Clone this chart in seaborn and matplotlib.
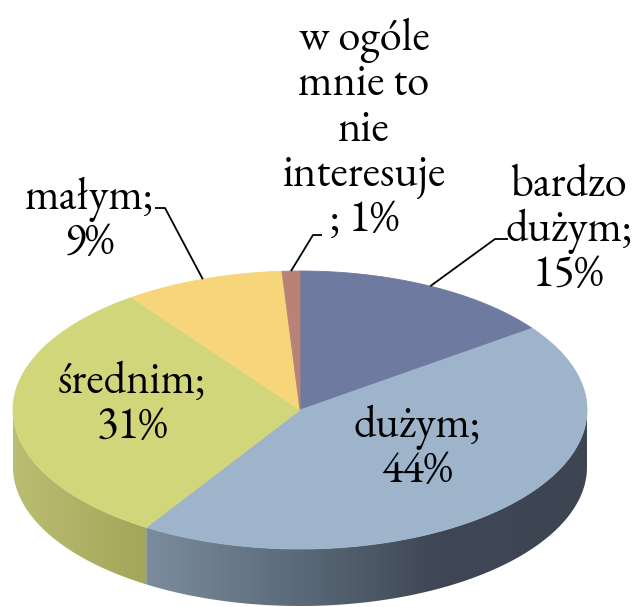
import numpy as np
import matplotlib
matplotlib.use("Agg")
import matplotlib.pyplot as plt
from matplotlib.patches import Polygon
from matplotlib.colors import LinearSegmentedColormap
import seaborn as sns

# Survey answers (share of respondents, %)
names = ["bardzo\ndużym", "dużym", "średnim", "małym", "w ogóle\nmnie to\nnie\ninteresuje"]
shares = [15, 44, 31, 9, 1]
separators = [";\n", ";\n", ";\n", ";\n", "\n; "]

sns.set_theme(style="white")
FONT = ["EB Garamond", "Liberation Serif", "DejaVu Serif"]

top_colors = sns.color_palette(["#6E7AA0", "#9DB4CB", "#D1D67B", "#F6D57B", "#B88276"])
side_colors = [
    ["#5A6589", "#3F4866"],
    ["#7B8C9C", "#5C6B7A", "#3E4753", "#3C4551"],
    ["#BBBE72", "#A3A659"],
    ["#D6B960", "#C2A650"],
    ["#9A6A5E", "#8A5E53"],
]

# layout of the tilted disc (in pixel-like data units)
CX, CY, RX, RY, DEPTH = 300, 410, 287, 139, 57

fig = plt.figure(figsize=(6.36, 6.07), dpi=100)
ax = fig.add_axes([0, 0, 1, 1])


def rim(a0, a1, dy=0.0, n=200):
    t = np.radians(np.linspace(a0, a1, n))
    return np.column_stack([CX + RX * np.sin(t), CY - RY * np.cos(t) + dy])


bounds = np.concatenate([[0], np.cumsum(shares)]) / np.sum(shares) * 360.0

# front side walls with horizontal shading
for i in range(len(shares)):
    a0, a1 = max(bounds[i], 90.0), min(bounds[i + 1], 270.0)
    if a1 <= a0:
        continue
    pts = np.vstack([rim(a0, a1), rim(a1, a0, DEPTH)])
    patch = Polygon(pts, closed=True, facecolor="none", edgecolor="none",
                    transform=ax.transData)
    ax.add_patch(patch)
    cmap = LinearSegmentedColormap.from_list(f"side{i}", side_colors[i])
    grad = np.linspace(0, 1, 256)[None, :]
    im = ax.imshow(grad, cmap=cmap, aspect="auto", zorder=1,
                   extent=[pts[:, 0].min(), pts[:, 0].max(),
                           pts[:, 1].max(), pts[:, 1].min()])
    im.set_clip_path(patch)

# top faces
for i in range(len(shares)):
    pts = np.vstack([[CX, CY], rim(bounds[i], bounds[i + 1])])
    ax.add_patch(Polygon(pts, closed=True, facecolor=top_colors[i],
                         edgecolor=top_colors[i], linewidth=0.6, zorder=2))

labels = [n + s + f"{v}%" for n, s, v in zip(names, separators, shares)]
fs = 32
text_kw = dict(ha="center", va="center", fontsize=fs, family=FONT,
               linespacing=1.0, color="black", zorder=4)

# labels placed inside the slices
inside = {1: (417, 450), 2: (132, 406)}
for i, (x, y) in inside.items():
    ax.text(x, y, labels[i], **text_kw)

# labels outside with leader lines
outside = {
    0: ((569, 231), (495, 239), (508, 239)),
    3: ((90, 222), (165, 208), (155, 208)),
    4: ((364, 131), (313, 235), (322, 235)),
}
for i, ((tx, ty), elbow, end) in outside.items():
    mid = (bounds[i] + bounds[i + 1]) / 2
    anchor = rim(mid, mid, n=1)[0]
    ax.plot([anchor[0], elbow[0], end[0]], [anchor[1], elbow[1], end[1]],
            color="black", linewidth=1.3, zorder=3, solid_capstyle="butt")
    ax.text(tx, ty, labels[i], **text_kw)

ax.set_xlim(0, 636)
ax.set_ylim(607, 0)
ax.axis("off")
fig.savefig("out.png", dpi=100, facecolor="white")
